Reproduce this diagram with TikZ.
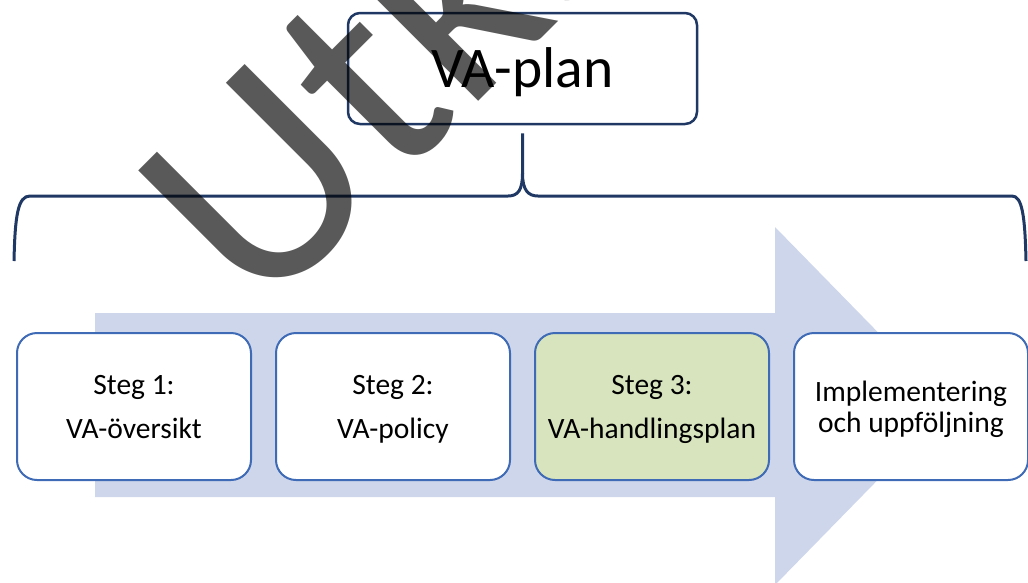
\documentclass[tikz,border=0pt]{standalone}
\usepackage{fontspec}
\setmainfont{Carlito}
\usepackage{tikz}
\usetikzlibrary{positioning, calc}
\definecolor{planblue}{RGB}{31,56,100}
\definecolor{stepblue}{RGB}{62,106,182}
\definecolor{stepgreen}{RGB}{215,228,189}
\definecolor{arrowfill}{RGB}{206,214,235}
\newcommand{\topstrut}{\rule{0pt}{30pt}}
\tikzset{
    base/.style={draw=stepblue, line width=2pt, align=center, inner sep=0pt, text=black},
    planbox/.style={base, rectangle, draw=planblue, line width=2.5pt, rounded corners=12pt, fill=white, minimum width=349pt, minimum height=111pt, font=\fontsize{57.5}{62}\selectfont, text height=37pt, text depth=0pt},
    stepbox/.style={base, rectangle, rounded corners=20pt, fill=white, minimum width=234pt, minimum height=147pt, font=\fontsize{29.5}{31}\selectfont},
    stepboxshaded/.style={stepbox, fill=stepgreen},
    bracket/.style={draw=planblue, line width=3pt},
    watermark/.style={inner sep=0pt, anchor=base west, rotate=45, text=black, text opacity=0.65, font=\fontsize{298}{300}\selectfont}
}

\begin{document}
\begin{tikzpicture}[x=1pt, y=-1pt, node distance=23pt]
    \useasboundingbox (0,0) rectangle (1028,582);
    \clip (0,0) rectangle (1028,582);

    % process arrow behind the steps
    \fill [arrowfill] (95,313) -- (775,313) -- (775,227) -- (950,406) -- (775,585) -- (775,497) -- (95,497) -- cycle;

    \node [planbox] (Plan) at (522.5,68.5) {VA-plan};

    \node [stepbox] (Step1) at (134,406.5) {\topstrut Steg 1:\\[13pt]VA-översikt\strut};
    \node [stepbox, right=of Step1] (Step2) {\topstrut Steg 2:\\[13pt]VA-policy\strut};
    \node [stepboxshaded, right=of Step2] (Step3) {\topstrut Steg 3:\\[13pt]VA-handlingsplan\strut};
    \node [stepbox, right=of Step3] (Step4) {\topstrut Implementering\\och uppföljning\strut};

    % brace under the plan
    \coordinate (BraceTop) at ($(Plan.south)+(0,8)$);
    \coordinate (BraceMid) at ($(BraceTop)+(0,40)$);
    \coordinate (BraceL) at (14,261);
    \coordinate (BraceR) at (1026,261);
    \draw [bracket] (BraceL) .. controls (15,215) and (18,196) .. (30,196) -- (508,196)
        .. controls (518,196) and (BraceMid |- 0,190) .. (BraceMid) -- (BraceTop);
    \draw [bracket] (BraceMid) .. controls (BraceMid |- 0,190) and (528,196) .. (538,196)
        -- (1012,196) .. controls (1022,196) and (1025,215) .. (BraceR);

    \node [watermark] (Draft) at (259,321) {Utkast};
\end{tikzpicture}
\end{document}
